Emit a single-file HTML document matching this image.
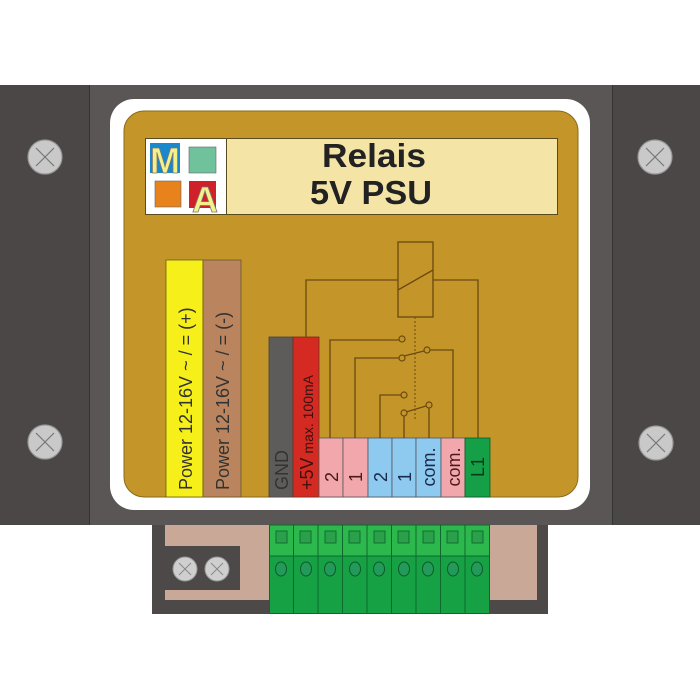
<!DOCTYPE html>
<html><head><meta charset="utf-8"><style>
html,body{margin:0;padding:0;background:#fff;width:700px;height:700px;overflow:hidden}
svg{display:block}
text{font-family:"Liberation Sans",sans-serif}
</style></head><body>
<svg width="700" height="700" viewBox="0 0 700 700" xmlns="http://www.w3.org/2000/svg">
<rect width="700" height="700" fill="#fff"/>
<rect x="0" y="85" width="700" height="440" fill="#5a5656"/>
<rect x="0" y="85" width="89" height="440" fill="#4a4746"/>
<line x1="89.5" y1="85" x2="89.5" y2="525" stroke="#333" stroke-width="1"/>
<rect x="612" y="85" width="88" height="440" fill="#4a4746"/>
<line x1="612.5" y1="85" x2="612.5" y2="525" stroke="#333" stroke-width="1"/>
<g stroke="#777" stroke-width="1.2">
<g transform="translate(45,157)"><circle r="17" fill="#c9c9c9" stroke="#999"/><line x1="-9" y1="-9" x2="9" y2="9"/><line x1="9" y1="-9" x2="-9" y2="9"/></g>
<g transform="translate(45,442)"><circle r="17" fill="#c9c9c9" stroke="#999"/><line x1="-9" y1="-9" x2="9" y2="9"/><line x1="9" y1="-9" x2="-9" y2="9"/></g>
<g transform="translate(655,157)"><circle r="17" fill="#c9c9c9" stroke="#999"/><line x1="-9" y1="-9" x2="9" y2="9"/><line x1="9" y1="-9" x2="-9" y2="9"/></g>
<g transform="translate(656,443)"><circle r="17" fill="#c9c9c9" stroke="#999"/><line x1="-9" y1="-9" x2="9" y2="9"/><line x1="9" y1="-9" x2="-9" y2="9"/></g>
</g>
<rect x="110" y="99" width="480" height="411" rx="24" fill="#fff"/>
<rect x="124" y="111" width="454" height="386" rx="20" fill="#c4962a" stroke="#8a6a1a" stroke-width="1"/>
<rect x="145.5" y="138.5" width="412" height="76" fill="#f4e4a6" stroke="#5a4a20"/>
<rect x="145.5" y="138.5" width="81" height="76" fill="#fff" stroke="#5a4a20"/>
<rect x="150" y="143" width="30" height="30" fill="#1a88cc"/>
<rect x="189" y="147" width="27" height="26" fill="#6fc29c" stroke="#666" stroke-width="0.6"/>
<rect x="155" y="181" width="26" height="26" fill="#e8821c" stroke="#666" stroke-width="0.6"/>
<rect x="189" y="181" width="27" height="27" fill="#d0202a"/>
<text x="165" y="173" font-size="36" font-weight="bold" fill="#f4f08a" stroke="#777" stroke-width="0.8" text-anchor="middle">M</text>
<text x="205" y="212" font-size="36" font-weight="bold" fill="#f4f08a" stroke="#777" stroke-width="0.8" text-anchor="middle">A</text>
<text x="374" y="167" font-size="33" font-weight="bold" fill="#222" text-anchor="middle" textLength="104" lengthAdjust="spacingAndGlyphs">Relais</text>
<text x="371" y="204" font-size="33" font-weight="bold" fill="#222" text-anchor="middle" textLength="122" lengthAdjust="spacingAndGlyphs">5V PSU</text>
<rect x="166" y="260" width="37" height="237" fill="#f7ef1a" stroke="#6a5a20" stroke-width="0.8"/>
<rect x="203" y="260" width="38" height="237" fill="#b9845e" stroke="#6a5a20" stroke-width="0.8"/>
<text transform="translate(192,490) rotate(-90)" font-size="18" fill="#333">Power 12-16V ~ / = (+)</text>
<text transform="translate(229,490) rotate(-90)" font-size="18" fill="#333">Power 12-16V ~ / = (-)</text>
<rect x="269" y="337" width="24" height="160" fill="#5e5b5b" stroke="#444" stroke-width="0.8"/>
<rect x="293" y="337" width="26" height="160" fill="#d52a22" stroke="#7a2a1a" stroke-width="0.8"/>
<text transform="translate(288,490) rotate(-90)" font-size="18" fill="#333">GND</text>
<text transform="translate(313,490) rotate(-90)" fill="#3a1010"><tspan font-size="18">+5V</tspan><tspan font-size="14"> max. 100mA</tspan></text>
<g stroke="#555" stroke-width="0.8">
<rect x="319" y="438" width="24" height="59" fill="#f2a7ad"/>
<rect x="343" y="438" width="25" height="59" fill="#f2a7ad"/>
<rect x="368" y="438" width="24" height="59" fill="#8ec9ef"/>
<rect x="392" y="438" width="24" height="59" fill="#8ec9ef"/>
<rect x="416" y="438" width="25" height="59" fill="#8ec9ef"/>
<rect x="441" y="438" width="24" height="59" fill="#f2a7ad"/>
<rect x="465" y="438" width="25" height="59" fill="#15a048" stroke="#0a5a2a"/>
</g>
<g font-size="18">
<text transform="translate(338,477) rotate(-90)" fill="#4a1a1a" text-anchor="middle">2</text>
<text transform="translate(362,477) rotate(-90)" fill="#4a1a1a" text-anchor="middle">1</text>
<text transform="translate(387,477) rotate(-90)" fill="#1a2a4a" text-anchor="middle">2</text>
<text transform="translate(411,477) rotate(-90)" fill="#1a2a4a" text-anchor="middle">1</text>
<text transform="translate(435,467) rotate(-90)" fill="#1a2a4a" text-anchor="middle">com.</text>
<text transform="translate(460,467) rotate(-90)" fill="#4a1a1a" text-anchor="middle">com.</text>
<text transform="translate(484,467) rotate(-90)" fill="#0a3a1a" text-anchor="middle">L1</text>
</g>
<g stroke="#6a4a10" stroke-width="1.3" fill="none">
<rect x="398" y="242" width="35" height="75"/>
<line x1="398" y1="290" x2="433" y2="270"/>
<polyline points="306,337 306,280 398,280"/>
<polyline points="433,280 478,280 478,438"/>
<line x1="415" y1="317" x2="415" y2="420" stroke-dasharray="2,2" stroke-width="1"/>
<polyline points="330,438 330,340 399,340"/>
<polyline points="355,438 355,358 399,358"/>
<line x1="404" y1="356" x2="424" y2="351"/>
<polyline points="430,350 453,350 453,438"/>
<polyline points="380,438 380,395 401,395"/>
<line x1="404" y1="416" x2="404" y2="438"/>
<line x1="406" y1="412" x2="426" y2="406"/>
<line x1="429" y1="408" x2="429" y2="438"/>
<g fill="#c4962a" stroke-width="1.2">
<circle cx="402" cy="339" r="3"/><circle cx="402" cy="358" r="3"/><circle cx="427" cy="350" r="3"/>
<circle cx="404" cy="395" r="3"/><circle cx="404" cy="413" r="3"/><circle cx="429" cy="405" r="3"/>
</g>
</g>
<rect x="152" y="525" width="396" height="89" fill="#4d4948"/>
<rect x="165" y="525" width="372" height="75" fill="#c9a898"/>
<rect x="165" y="546" width="75" height="44" fill="#4d4948"/>
<g stroke="#888" stroke-width="1">
<g transform="translate(185,569)"><circle r="12" fill="#cfcfcf" stroke="#999"/><line x1="-6" y1="-6" x2="6" y2="6"/><line x1="6" y1="-6" x2="-6" y2="6"/></g>
<g transform="translate(217,569)"><circle r="12" fill="#cfcfcf" stroke="#999"/><line x1="-6" y1="-6" x2="6" y2="6"/><line x1="6" y1="-6" x2="-6" y2="6"/></g>
</g>
<rect x="269" y="525" width="221" height="89" fill="#16a144"/>
<rect x="269" y="525" width="221" height="31" fill="#2db84e"/>
<g stroke="#0e6a2c" stroke-width="1" fill="none">
<line x1="269" y1="556" x2="490" y2="556"/>
<line x1="293.5" y1="525" x2="293.5" y2="614"/><line x1="318" y1="525" x2="318" y2="614"/>
<line x1="342.5" y1="525" x2="342.5" y2="614"/><line x1="367" y1="525" x2="367" y2="614"/>
<line x1="391.5" y1="525" x2="391.5" y2="614"/><line x1="416" y1="525" x2="416" y2="614"/>
<line x1="440.5" y1="525" x2="440.5" y2="614"/><line x1="465" y1="525" x2="465" y2="614"/>
<rect x="269.5" y="525" width="220" height="88.5"/>
</g>
<g stroke="#0e6a2c" stroke-width="0.9" fill="#2aa04a">
<rect x="276" y="531" width="11" height="12"/><rect x="300" y="531" width="11" height="12"/><rect x="325" y="531" width="11" height="12"/>
<rect x="349" y="531" width="11" height="12"/><rect x="374" y="531" width="11" height="12"/><rect x="398" y="531" width="11" height="12"/>
<rect x="423" y="531" width="11" height="12"/><rect x="447" y="531" width="11" height="12"/><rect x="472" y="531" width="11" height="12"/>
</g>
<g stroke="#0e5a2a" stroke-width="1" fill="#239a5a">
<ellipse cx="281" cy="569" rx="5.5" ry="7"/><ellipse cx="306" cy="569" rx="5.5" ry="7"/><ellipse cx="330" cy="569" rx="5.5" ry="7"/>
<ellipse cx="355" cy="569" rx="5.5" ry="7"/><ellipse cx="379" cy="569" rx="5.5" ry="7"/><ellipse cx="404" cy="569" rx="5.5" ry="7"/>
<ellipse cx="428" cy="569" rx="5.5" ry="7"/><ellipse cx="453" cy="569" rx="5.5" ry="7"/><ellipse cx="477" cy="569" rx="5.5" ry="7"/>
</g>
</svg>
</body></html>
